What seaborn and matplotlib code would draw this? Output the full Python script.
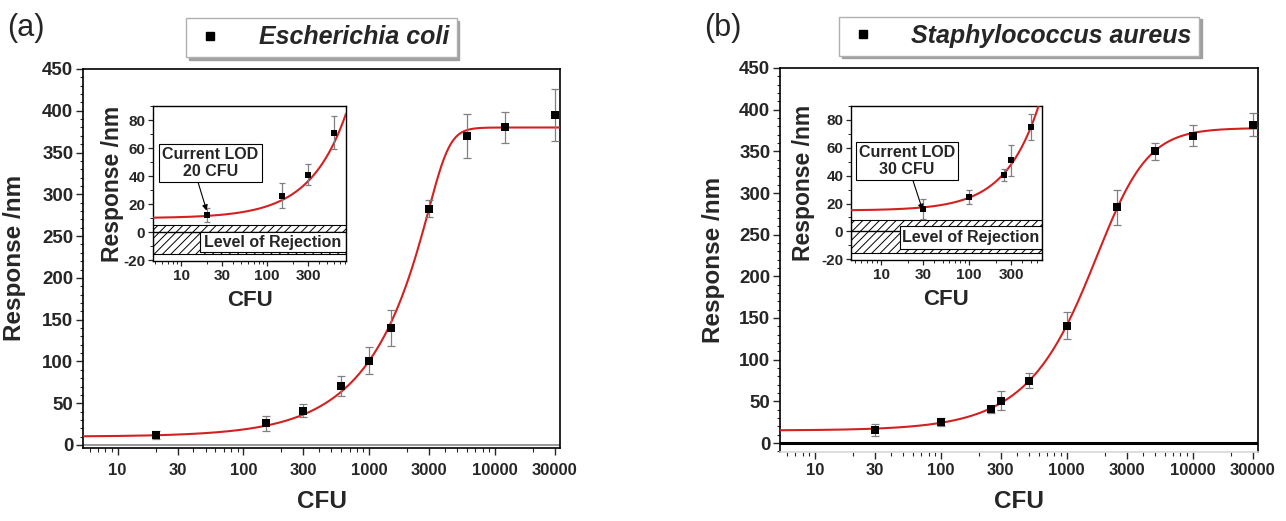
import numpy as np
import matplotlib
matplotlib.use("Agg")
import matplotlib.pyplot as plt
import seaborn as sns
from matplotlib.lines import Line2D
from matplotlib.patches import Rectangle
from matplotlib.ticker import FixedLocator, LogLocator, MultipleLocator, NullFormatter
import matplotlib.transforms as mtransforms

sns.set_theme(style="ticks")
plt.rcParams.update({
    "font.family": ["Liberation Sans", "DejaVu Sans"],
    "font.weight": "bold",
    "axes.labelweight": "bold",
    "axes.linewidth": 1.2,
    "axes.unicode_minus": False,
    "xtick.direction": "out",
    "ytick.direction": "out",
    "hatch.linewidth": 0.7,
})

# (a) Escherichia coli
ecoli_cfu = [20, 150, 300, 600, 1000, 1500, 3000, 6000, 12000, 30000]
ecoli_resp = [12, 26, 41, 71, 101, 140, 283, 370, 380, 395]
ecoli_err = [5, 9, 7.5, 12, 16, 21, 10, 26, 19, 31]
ecoli_fit = (10, 380, 3957, 6.82, 0.15)      # A1, A2, x0, p, s
ecoli_lod = 20

# (b) Staphylococcus aureus
staph_cfu = [30, 100, 250, 300, 500, 1000, 2500, 5000, 10000, 30000]
staph_resp = [16, 25, 40.5, 51, 75, 141, 283, 350, 369, 382]
staph_err = [7, 5, 4, 11, 9.5, 16, 21, 10.5, 13, 14]
staph_fit = (15, 378, 2345, 2.33, 0.5)
staph_lod = 30

x_ticks = [10, 30, 100, 300, 1000, 3000, 10000, 30000]
inset_x_ticks = [10, 30, 100, 300]

RED = "#d42020"
GRAY = "#808080"


def fit_curve(x, a1, a2, x0, p, s):
    return a1 + (a2 - a1) / (1 + (x0 / x) ** p) ** s


def draw_series(ax, cfu, resp, err, fit, xlim, msize, capsize):
    xx = np.logspace(np.log10(xlim[0]), np.log10(xlim[1]), 400)
    sns.lineplot(x=xx, y=fit_curve(xx, *fit), ax=ax, color=RED, lw=1.5,
                 zorder=3, legend=False)
    ax.errorbar(cfu, resp, yerr=err, fmt="none", ecolor=GRAY, elinewidth=0.9,
                capsize=capsize, capthick=0.9, zorder=4)
    sns.scatterplot(x=cfu, y=resp, ax=ax, marker="s", color="black", s=msize,
                    edgecolor="black", linewidth=0, zorder=5, legend=False)


def style_main(ax, xlim, ylim, tick_pad):
    ax.set_xscale("log")
    ax.set_xlim(*xlim)
    ax.set_ylim(*ylim)
    ax.xaxis.set_major_locator(FixedLocator(x_ticks))
    ax.set_xticklabels([str(t) for t in x_ticks])
    ax.xaxis.set_minor_locator(LogLocator(base=10, subs=range(2, 10), numticks=20))
    ax.xaxis.set_minor_formatter(NullFormatter())
    ax.yaxis.set_major_locator(MultipleLocator(50))
    ax.yaxis.set_minor_locator(MultipleLocator(10))
    ax.tick_params(axis="x", which="major", length=5, width=1, labelsize=12, pad=tick_pad)
    ax.tick_params(axis="x", which="minor", length=3, width=0.8)
    ax.tick_params(axis="y", which="major", length=5, width=1, labelsize=13.5, pad=2)
    ax.tick_params(axis="y", which="minor", length=2.5, width=0.8)
    for sp in ax.spines.values():
        sp.set_visible(True)
        sp.set_color("black")
    ax.set_xlabel("CFU", fontsize=17.5)
    ax.set_ylabel("Response /nm", fontsize=17.5)


def style_inset(ax, xlim):
    ax.set_xscale("log")
    ax.set_xlim(*xlim)
    ax.set_ylim(-20.5, 90)
    ax.xaxis.set_major_locator(FixedLocator(inset_x_ticks))
    ax.set_xticklabels([str(t) for t in inset_x_ticks])
    ax.xaxis.set_minor_locator(LogLocator(base=10, subs=range(2, 10), numticks=20))
    ax.xaxis.set_minor_formatter(NullFormatter())
    ax.yaxis.set_major_locator(MultipleLocator(20))
    ax.yaxis.set_minor_locator(MultipleLocator(10))
    ax.tick_params(which="major", length=3.5, width=0.9, labelsize=11, pad=2)
    ax.tick_params(which="minor", length=2, width=0.7)
    for sp in ax.spines.values():
        sp.set_visible(True)
        sp.set_color("black")
        sp.set_linewidth(1.0)
    ax.set_xlabel("CFU", fontsize=16)
    ax.set_ylabel("Response /nm", fontsize=16.5)


def rejection_zone(ax, top, bottom, box_left, box_top, box_bottom):
    ax.axhspan(bottom, top, facecolor="white", edgecolor="black", hatch="////",
               lw=0.8, zorder=1)
    ax.axhline(0, color="black", lw=1.0, zorder=1.5)
    trans = mtransforms.blended_transform_factory(ax.transAxes, ax.transData)
    ax.add_patch(Rectangle((box_left, box_bottom), 1 - box_left, box_top - box_bottom,
                           transform=trans, facecolor="white", edgecolor="black",
                           lw=0.8, zorder=2))
    ax.text((1 + box_left) / 2, (box_top + box_bottom) / 2, "Level of Rejection",
            transform=trans, ha="center", va="center", fontsize=11.5, zorder=2.5)


def lod_note(ax, lod, text_xy, relx):
    ax.annotate(f"Current LOD\n{lod} CFU", xy=(lod, 14.5), xycoords="data",
                xytext=text_xy, textcoords="axes fraction", ha="center", va="center",
                fontsize=11.5, linespacing=1.15,
                bbox=dict(boxstyle="square,pad=0.2", fc="white", ec="black", lw=0.8),
                arrowprops=dict(arrowstyle="-|>", color="black", lw=0.8,
                                mutation_scale=8, relpos=(relx, 0), shrinkA=0, shrinkB=1),
                zorder=6)


def legend_box(ax, label):
    h = Line2D([], [], marker="s", ls="none", color="black", markersize=5.5)
    ax.legend([h], [label], loc="lower center", bbox_to_anchor=(0.5, 1.032),
              borderaxespad=0, frameon=True, fancybox=False, edgecolor="#b0b0b0",
              prop=dict(style="italic", weight="bold", size=18),
              handletextpad=1.3, borderpad=0.3, handlelength=1.3,
              shadow={"color": "#a0a0a0", "alpha": 1})


fig = plt.figure(figsize=(12.86, 5.21), dpi=100)

# ---------------- panel (a) ----------------
main_xlim = (5.3, 33000)
ax1 = fig.add_axes([83 / 1286, 1 - 447.5 / 521, 477 / 1286, 378.5 / 521])
ax1.axhline(0, color="#909090", lw=1.3, zorder=1)
draw_series(ax1, ecoli_cfu, ecoli_resp, ecoli_err, ecoli_fit, main_xlim, 40, 3)
style_main(ax1, main_xlim, (-3, 450), 6.3)
ax1.yaxis.set_label_coords(-0.12, 0.5)
ax1.xaxis.set_label_coords(0.5, -0.112)
legend_box(ax1, "Escherichia coli")
fig.text(7 / 1286, 1 - 28 / 521, "(a)", fontsize=22, fontweight="normal", va="center")

in1_xlim = (4.7, 826)
in1 = fig.add_axes([153 / 1286, 1 - 261 / 521, 193 / 1286, 155 / 521])
rejection_zone(in1, 5, -15.6, 0.244, 0, -14)
sel = [i for i, c in enumerate(ecoli_cfu) if c <= in1_xlim[1]]
draw_series(in1, [ecoli_cfu[i] for i in sel], [ecoli_resp[i] for i in sel],
            [ecoli_err[i] for i in sel], ecoli_fit, in1_xlim, 18, 2)
style_inset(in1, in1_xlim)
in1.yaxis.set_label_coords(-0.15, 0.5)
in1.xaxis.set_label_coords(0.5, -0.19)
lod_note(in1, ecoli_lod, (0.298, 0.632), 0.36)

# ---------------- panel (b) ----------------
ax2 = fig.add_axes([780 / 1286, 1 - 452 / 521, 478 / 1286, 384 / 521])
ax2.axhline(0, color="black", lw=2.2, zorder=1)
draw_series(ax2, staph_cfu, staph_resp, staph_err, staph_fit, main_xlim, 40, 3)
style_main(ax2, main_xlim, (-10.8, 450), 3.1)
ax2.spines["bottom"].set_color("#d8d8d8")
ax2.yaxis.set_label_coords(-0.115, 0.5)
ax2.xaxis.set_label_coords(0.5, -0.099)
legend_box(ax2, "Staphylococcus aureus")
fig.text(704 / 1286, 1 - 28 / 521, "(b)", fontsize=22, fontweight="normal", va="center")

in2_xlim = (4.56, 675)
in2 = fig.add_axes([851 / 1286, 1 - 260 / 521, 191 / 1286, 154 / 521])
rejection_zone(in2, 8.5, -15.4, 0.257, 3.6, -12.9)
sel = [i for i, c in enumerate(staph_cfu) if c <= in2_xlim[1]]
draw_series(in2, [staph_cfu[i] for i in sel], [staph_resp[i] for i in sel],
            [staph_err[i] for i in sel], staph_fit, in2_xlim, 18, 2)
style_inset(in2, in2_xlim)
in2.yaxis.set_label_coords(-0.19, 0.5)
in2.xaxis.set_label_coords(0.5, -0.19)
lod_note(in2, staph_lod, (0.293, 0.643), 0.55)

fig.savefig("out.png", dpi=100)
